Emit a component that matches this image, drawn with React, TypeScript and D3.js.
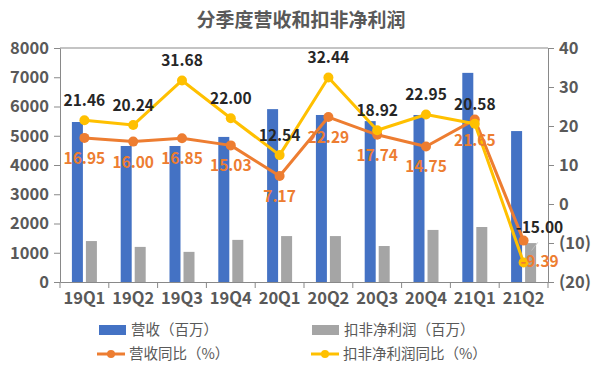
import React, { useEffect, useRef } from 'react';
import * as d3 from 'd3';

const quarters = ['19Q1', '19Q2', '19Q3', '19Q4', '20Q1', '20Q2', '20Q3', '20Q4', '21Q1', '21Q2'];
const revenue = [5470, 4650, 4650, 4960, 5910, 5710, 5500, 5710, 7150, 5160];
const netProfit = [1400, 1200, 1030, 1440, 1570, 1570, 1230, 1780, 1880, 1330];
const revenueYoY = [16.95, 16.0, 16.85, 15.03, 7.17, 22.29, 17.74, 14.75, 21.65, -9.39];
const profitYoY = [21.46, 20.24, 31.68, 22.0, 12.54, 32.44, 18.92, 22.95, 20.58, -15.0];
const leftTicks = [0, 1000, 2000, 3000, 4000, 5000, 6000, 7000, 8000];
const rightTicks = [-20, -10, 0, 10, 20, 30, 40];

const FONT = '"Noto Sans CJK SC", "Microsoft YaHei", sans-serif';
const BLUE = '#4472C4', GRAY = '#A5A5A5', ORANGE = '#ED7D31', YELLOW = '#FFC000';
const TXT = '#595959';

export default function App() {
  const ref = useRef<SVGSVGElement>(null);

  useEffect(() => {
    const w = 598, h = 372;
    const m = { top: 48, right: 50, bottom: 90, left: 60 };
    const svg = d3.select(ref.current).attr('width', w).attr('height', h);
    svg.selectAll('*').remove();
    svg.style('font-family', FONT);

    const x = d3.scaleBand().domain(quarters).range([m.left, w - m.right]);
    const yL = d3.scaleLinear().domain([0, 8000]).range([h - m.bottom, m.top]);
    const yR = d3.scaleLinear().domain([-20, 40]).range([h - m.bottom, m.top]);
    const bw = 11, gap = 3;

    // title
    svg.append('text')
      .attr('x', w / 2 + 2).attr('y', 27)
      .attr('text-anchor', 'middle')
      .attr('font-size', 19).attr('font-weight', 'bold')
      .attr('fill', TXT)
      .text('分季度营收和扣非净利润');

    // top border
    svg.append('line')
      .attr('x1', m.left).attr('x2', w - m.right)
      .attr('y1', m.top).attr('y2', m.top)
      .attr('stroke', '#898989');

    // axes
    const gL = svg.append('g')
      .attr('transform', `translate(${m.left},0)`)
      .call(d3.axisLeft(yL).tickValues(leftTicks).tickSize(6).tickSizeOuter(0).tickPadding(5)
        .tickFormat(d3.format('d')));
    const gR = svg.append('g')
      .attr('transform', `translate(${w - m.right},0)`)
      .call(d3.axisRight(yR).tickValues(rightTicks).tickSize(6).tickSizeOuter(0).tickPadding(5)
        .tickFormat(d => (+d < 0 ? `(${-d})` : `${d}`)));
    const gB = svg.append('g')
      .attr('transform', `translate(0,${h - m.bottom})`)
      .call(d3.axisBottom(x).tickSize(0).tickSizeOuter(0).tickPadding(10));
    // category boundary ticks
    gB.selectAll('.bt')
      .data(d3.range(quarters.length + 1))
      .enter().append('line')
      .attr('x1', i => m.left + i * x.step()).attr('x2', i => m.left + i * x.step())
      .attr('y1', 0).attr('y2', 6)
      .attr('stroke', '#898989');

    [gL, gR, gB].forEach(g => {
      g.selectAll('path, line').attr('stroke', '#898989');
      g.selectAll('text')
        .attr('fill', TXT).attr('font-size', 16.5).attr('font-weight', 'bold')
        .attr('font-family', FONT);
    });

    // bars
    svg.selectAll('.rev')
      .data(revenue)
      .enter().append('rect')
      .attr('x', (d, i) => x(quarters[i])! + x.bandwidth() / 2 - gap / 2 - bw)
      .attr('y', d => yL(d))
      .attr('width', bw)
      .attr('height', d => yL(0) - yL(d))
      .attr('fill', BLUE);
    svg.selectAll('.np')
      .data(netProfit)
      .enter().append('rect')
      .attr('x', (d, i) => x(quarters[i])! + x.bandwidth() / 2 + gap / 2)
      .attr('y', d => yL(d))
      .attr('width', bw)
      .attr('height', d => yL(0) - yL(d))
      .attr('fill', GRAY);

    const cx = (i: number) => x(quarters[i])! + x.bandwidth() / 2;
    const line = d3.line<number>().x((d, i) => cx(i)).y(d => yR(d));

    const drawLine = (vals: number[], color: string) => {
      svg.append('path')
        .attr('d', line(vals))
        .attr('fill', 'none')
        .attr('stroke', color)
        .attr('stroke-width', 3)
        .attr('stroke-linejoin', 'round');
      svg.append('g').selectAll('circle')
        .data(vals)
        .enter().append('circle')
        .attr('cx', (d, i) => cx(i))
        .attr('cy', d => yR(d))
        .attr('r', 5)
        .attr('fill', color);
    };
    drawLine(revenueYoY, ORANGE);
    drawLine(profitYoY, YELLOW);

    // labels
    const last = quarters.length - 1;
    svg.append('g').selectAll('text')
      .data(revenueYoY)
      .enter().append('text')
      .attr('x', (d, i) => cx(i) + (i === last ? 16 : 0))
      .attr('y', d => yR(d) + 26)
      .attr('text-anchor', 'middle')
      .attr('font-size', 15.5).attr('font-weight', 'bold')
      .attr('fill', ORANGE)
      .text(d => d.toFixed(2));
    svg.append('g').selectAll('text')
      .data(profitYoY)
      .enter().append('text')
      .attr('x', (d, i) => cx(i) + (i === last ? 16 : 0))
      .attr('y', (d, i) => yR(d) - (i === last ? 30 : 14))
      .attr('text-anchor', 'middle')
      .attr('font-size', 15.5).attr('font-weight', 'bold')
      .attr('fill', '#262626')
      .text(d => d.toFixed(2));
    // leader line for last label
    svg.append('line')
      .attr('x1', cx(last) + 8).attr('y1', yR(profitYoY[last]) - 12)
      .attr('x2', cx(last) + 14).attr('y2', yR(profitYoY[last]) - 20)
      .attr('stroke', '#BFBFBF');

    // legend
    const legend = [
      { label: '营收（百万）', color: BLUE, type: 'bar', x: 99, y: 330 },
      { label: '扣非净利润（百万）', color: GRAY, type: 'bar', x: 312, y: 330 },
      { label: '营收同比（%）', color: ORANGE, type: 'line', x: 97, y: 354 },
      { label: '扣非净利润同比（%）', color: YELLOW, type: 'line', x: 311, y: 354 },
    ];
    const lg = svg.append('g').selectAll('g')
      .data(legend)
      .enter().append('g')
      .attr('transform', d => `translate(${d.x},${d.y})`);
    lg.filter(d => d.type === 'bar').append('rect')
      .attr('x', 0).attr('y', -5).attr('width', 27).attr('height', 10)
      .attr('fill', d => d.color);
    lg.filter(d => d.type === 'line').append('line')
      .attr('x1', 0).attr('x2', 28).attr('y1', 0).attr('y2', 0)
      .attr('stroke', d => d.color).attr('stroke-width', 3);
    lg.filter(d => d.type === 'line').append('circle')
      .attr('cx', 14).attr('cy', 0).attr('r', 4)
      .attr('fill', d => d.color);
    lg.append('text')
      .attr('x', 32).attr('y', 5)
      .attr('font-size', 14.5)
      .attr('fill', TXT)
      .text(d => d.label);
  }, []);

  return (
    <svg ref={ref} style={{ position: 'absolute', left: 0, top: 0, background: '#fff' }}></svg>
  );
}
